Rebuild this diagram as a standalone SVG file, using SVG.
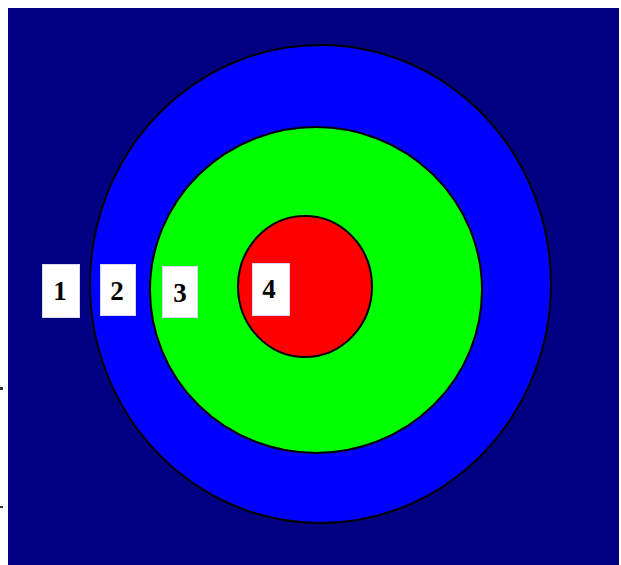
<svg xmlns="http://www.w3.org/2000/svg" width="621" height="565" viewBox="0 0 621 565">
<style>
.ring{stroke:#000;stroke-width:2}
.lbl{fill:#fff;stroke:#d8d8f0;stroke-width:1}
.num{font-family:"Liberation Serif","Times New Roman",serif;font-weight:bold;font-size:27px;fill:#000;text-anchor:middle}
</style>
<rect x="0" y="0" width="621" height="565" fill="#fff"/>
<rect x="8" y="8" width="611" height="557" fill="#000080"/>
<rect x="0" y="387" width="3" height="3" fill="#333"/>
<rect x="0" y="506" width="3" height="2" fill="#333"/>
<g id="ring1"><ellipse class="ring" cx="320.5" cy="284" rx="230.5" ry="239" fill="#0000ff"/></g>
<g id="ring2"><ellipse class="ring" cx="316" cy="290" rx="166" ry="163" fill="#00ff00"/></g>
<g id="ring3"><ellipse class="ring" cx="305" cy="286.5" rx="67" ry="70.5" fill="#ff0000"/></g>
<g id="label1"><rect class="lbl" x="42.5" y="264.5" width="37" height="53"/><text class="num" x="60" y="300">1</text></g>
<g id="label2"><rect class="lbl" x="100.5" y="264.5" width="35" height="51"/><text class="num" x="117" y="300">2</text></g>
<g id="label3"><rect class="lbl" x="162.5" y="266.5" width="35" height="51"/><text class="num" x="180" y="302">3</text></g>
<g id="label4"><rect class="lbl" x="252.5" y="263.5" width="37" height="52"/><text class="num" x="269" y="298">4</text></g>
</svg>
